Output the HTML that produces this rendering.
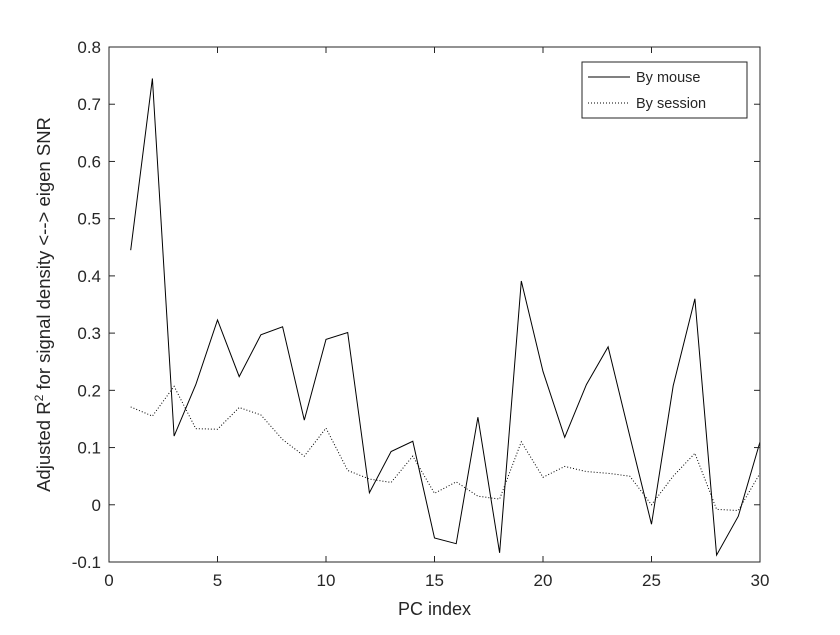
<!DOCTYPE html>
<html><head><meta charset="utf-8"><style>
body{margin:0;background:#fff}
svg text{font-family:"Liberation Sans",sans-serif;fill:#262626}
</style></head><body>
<svg id="chart" width="840" height="630" xmlns="http://www.w3.org/2000/svg">
<rect width="840" height="630" fill="#fff"/>
<polyline id="mouse" fill="none" stroke="#000" stroke-width="1"/>
<polyline id="session" fill="none" stroke="#000" stroke-width="1" stroke-dasharray="1,2"/>
<rect x="109" y="47" width="651" height="515" fill="none" stroke="#262626" stroke-width="1"/>
<g id="ticks"></g>
<text x="434.5" y="615" font-size="18" text-anchor="middle">PC index</text>
<text transform="translate(50,304.5) rotate(-90)" font-size="18.5" text-anchor="middle">Adjusted R<tspan font-size="12" dy="-7">2</tspan><tspan dy="7"> for signal density &lt;--&gt; eigen SNR</tspan></text>
<g>
<rect x="582" y="62" width="165" height="56" fill="#fff" stroke="#262626" stroke-width="1"/>
<line x1="588" y1="77" x2="630" y2="77" stroke="#000"/>
<text x="636" y="82" font-size="14.5">By mouse</text>
<line x1="588" y1="103" x2="630" y2="103" stroke="#000" stroke-dasharray="1,2"/>
<text x="636" y="108" font-size="14.5">By session</text>
</g>
</svg>
<script>
const pcIndex=[1,2,3,4,5,6,7,8,9,10,11,12,13,14,15,16,17,18,19,20,21,22,23,24,25,26,27,28,29,30];
const byMouse=[0.445,0.745,0.12,0.21,0.323,0.224,0.297,0.311,0.148,0.289,0.301,0.021,0.093,0.111,-0.058,-0.068,0.153,-0.084,0.391,0.233,0.118,0.21,0.276,0.12,-0.034,0.208,0.36,-0.088,-0.02,0.11];
const bySession=[0.171,0.155,0.207,0.133,0.132,0.17,0.157,0.114,0.085,0.134,0.06,0.045,0.039,0.085,0.02,0.04,0.015,0.01,0.11,0.048,0.067,0.058,0.055,0.05,0.0,0.05,0.09,-0.008,-0.01,0.055];
const xTicks=[0,5,10,15,20,25,30];
const yTicks=[-0.1,0,0.1,0.2,0.3,0.4,0.5,0.6,0.7,0.8];
const X0=109,X1=760,Y0=562,Y1=47;
const xs=v=>X0+(v-0)/30*(X1-X0);
const ys=v=>Y0-(v+0.1)/0.9*(Y0-Y1);
document.getElementById('mouse').setAttribute('points',pcIndex.map((x,i)=>xs(x)+','+ys(byMouse[i])).join(' '));
document.getElementById('session').setAttribute('points',pcIndex.map((x,i)=>xs(x)+','+ys(bySession[i])).join(' '));
const ns='http://www.w3.org/2000/svg',tg=document.getElementById('ticks');
function tick(x1,y1,x2,y2,name){
 const l=document.createElementNS(ns,'line');
 
 
 l.setAttribute('x1',x1);l.setAttribute('x2',x2);l.setAttribute('y1',y1);l.setAttribute('y2',y2);l.setAttribute('stroke','#262626');tg.appendChild(l);
}
xTicks.forEach(t=>{
 tick(xs(t),Y0,xs(t),Y0-6,'x-tick');
 tick(xs(t),Y1,xs(t),Y1+6,'x-tick-top');
 const s=document.createElementNS(ns,'text');
 
 
 s.setAttribute('x',xs(t));s.setAttribute('y',586);s.setAttribute('font-size','17');s.setAttribute('text-anchor','middle');s.textContent=t;tg.appendChild(s);
});
yTicks.forEach(t=>{
 tick(X0,ys(t),X0+6,ys(t),'y-tick');
 tick(X1,ys(t),X1-6,ys(t),'y-tick-right');
 const s=document.createElementNS(ns,'text');
 
 
 s.setAttribute('x',X0-8);s.setAttribute('y',ys(t)+6);s.setAttribute('font-size','17');s.setAttribute('text-anchor','end');s.textContent=(Math.abs(t)<1e-9?'0':String(+t.toFixed(1)));tg.appendChild(s);
});
</script>
</body></html>
